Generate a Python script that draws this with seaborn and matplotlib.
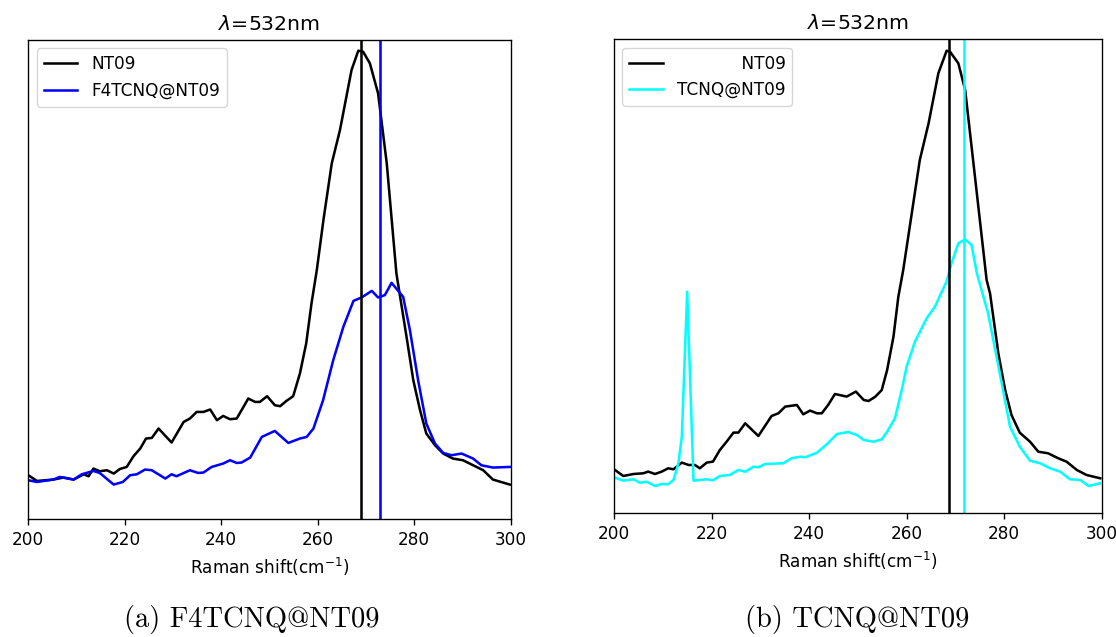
import numpy as np
import pandas as pd
import matplotlib
matplotlib.use("Agg")
import matplotlib.pyplot as plt
import seaborn as sns

# ---------------- data (arbitrary intensity units) -------------
# Panel (a)
a_nt09_x = [200.0, 201.8, 205.2, 207.3, 209.4, 211.5, 212.5, 213.5, 214.8, 216.3, 217.7,
            219.0, 220.4, 221.8, 223.2, 224.4, 225.6, 227.0, 229.7, 232.2, 233.5, 234.9,
            236.3, 237.7, 239.1, 240.4, 241.8, 243.2, 244.2, 245.6, 247.0, 248.0, 249.5,
            251.1, 252.2, 253.5, 254.9, 256.3, 257.6, 258.7, 259.8, 261.2, 262.9, 264.6,
            267.0, 268.4, 269.4, 270.8, 272.5, 274.3, 276.3, 278.4, 279.8, 281.2, 282.5,
            284.3, 286.0, 288.0, 290.1, 292.2, 294.3, 296.3, 299.8]
a_nt09_y = [44, 38.3, 39.7, 41.7, 39.7, 45, 43, 50.7, 48, 49, 45.7,
            50.3, 52.3, 63, 70.7, 80.7, 81.3, 90.7, 76.7, 97.3, 100.7, 107.3,
            107.3, 109.7, 99, 103.3, 100, 100.7, 109, 120.7, 117.3, 117.3, 123,
            114, 113, 118.3, 123, 145.7, 175.7, 215.7, 249, 300, 355.7, 389,
            449, 468.3, 467.3, 455.7, 425.7, 355.7, 245.7, 182.3, 139, 109, 85.7,
            74, 65.7, 60.7, 59, 54, 49, 39.7, 34.7]

a_dop_x = [200.0, 201.8, 205.2, 206.5, 209.4, 211.1, 213.5, 214.8, 217.7, 219.6, 221.1,
           222.5, 224.2, 225.6, 228.4, 229.7, 230.7, 233.5, 235.2, 236.3, 238.0, 240.4,
           241.8, 243.2, 244.2, 246.0, 248.4, 251.1, 253.9, 256.3, 257.7, 259.1, 261.1,
           263.2, 265.3, 267.4, 269.1, 271.2, 272.5, 273.9, 275.3, 277.7, 279.1, 280.8,
           282.5, 284.3, 286.0, 287.7, 289.8, 292.2, 293.9, 296.3, 299.8]
a_dop_y = [39, 37.3, 39.7, 42.3, 39.7, 45, 48.3, 46.3, 34.7, 37.3, 44,
           45, 49.7, 49, 40.7, 45, 43, 49, 46.3, 46.7, 52.3, 55.7,
           59, 56.3, 56.7, 61.7, 82.3, 88.3, 76.3, 80.7, 82.3, 90.7, 119,
           159, 192.3, 218.3, 221.7, 228.3, 221.7, 224, 236.3, 222.3, 189, 139,
           95.7, 75.7, 66.3, 64, 65.7, 60.7, 54, 51.7, 52.3]

# Panel (b)
b_nt09_x = [200.0, 201.9, 204.0, 206.0, 207.0, 208.4, 209.8, 211.1, 212.2, 213.9, 215.3,
            216.6, 217.6, 219.0, 220.3, 221.7, 223.1, 224.5, 225.5, 226.9, 229.6, 232.3,
            233.7, 235.1, 237.5, 238.8, 240.2, 241.6, 242.6, 243.9, 245.3, 247.7, 249.6,
            251.2, 252.2, 253.6, 254.9, 256.0, 257.3, 258.3, 259.3, 262.7, 264.5, 266.5,
            268.2, 268.9, 270.6, 272.0, 273.7, 276.4, 277.1, 278.8, 280.2, 281.5, 283.2,
            285.3, 287.0, 289.0, 291.1, 292.8, 294.9, 296.9, 299.7]
b_nt09_y = [44, 37.3, 39.3, 40, 41.7, 39.3, 41.7, 45, 44, 50.7, 48.3,
            48.3, 45, 50.7, 51.7, 63.3, 71.7, 80.7, 80.7, 90, 77.3, 97.3,
            100, 106.7, 108.3, 99, 102.7, 100, 100, 108.3, 119.3, 116.7, 121.7,
            113.3, 112.3, 116.7, 123.3, 143.3, 176.6, 216.6, 243.3, 353.3, 390, 440,
            462.6, 461.6, 450, 423.3, 350, 233.3, 220, 160, 123.3, 98.3, 80.6,
            71.6, 61.6, 60, 55, 51.6, 43.3, 38.3, 35]

b_dop_x = [200.0, 201.9, 204.0, 205.3, 206.7, 208.4, 209.8, 211.1, 212.2, 213.2, 213.9,
           215.0, 216.3, 217.6, 219.0, 220.3, 221.7, 223.7, 225.5, 226.9, 228.6, 229.6,
           231.0, 234.7, 236.4, 238.2, 239.2, 241.6, 243.7, 245.7, 248.0, 249.8, 251.2,
           253.2, 254.9, 256.0, 257.6, 259.0, 260.0, 261.7, 264.1, 265.8, 268.2, 269.2,
           270.6, 272.0, 273.3, 274.4, 276.7, 279.1, 281.2, 283.2, 285.3, 287.4, 289.4,
           291.5, 293.5, 295.6, 297.3, 299.7]
b_dop_y = [36, 32.6, 34, 30.6, 31.6, 27.3, 29.3, 29, 33.3, 50, 76.6,
           221.6, 32.6, 33.3, 34, 33, 37.3, 38.3, 43.3, 41.6, 46.6, 46,
           49.3, 50, 55, 56.6, 56, 60.6, 69.3, 79.3, 81.3, 78.3, 73.3,
           71.6, 74, 81.6, 95, 123.3, 146.6, 171.6, 195, 206.6, 232, 250,
           270, 274, 268.3, 240, 200, 140, 86.6, 66.6, 52.6, 50, 45,
           41.6, 34, 33.3, 27.3, 30]

peak_a = [268.9, 272.8]
peak_b = [268.7, 271.8]

titles = [r"$\lambda$=532nm", r"$\lambda$=532nm"]
legend_a = ["NT09", "F4TCNQ@NT09"]
legend_b = ["            NT09", "TCNQ@NT09"]
captions = ["(a) F4TCNQ@NT09", "(b) TCNQ@NT09"]
xticks = [200, 220, 240, 260, 280, 300]

# ---------------- figure -------------
s = 1.22
plt.rcParams.update({
    "font.size": 10 * s,
    "axes.linewidth": 0.8 * s,
    "xtick.major.width": 0.8 * s,
    "xtick.major.size": 3.5 * s,
    "xtick.major.pad": 3.5 * s,
    "xtick.labelsize": 10 * s,
    "legend.fontsize": 10 * s,
    "axes.titlesize": 12 * s,
})

fig = plt.figure(figsize=(11.16, 6.37), dpi=100)
axA = fig.add_axes([0.02536, 0.1848, 0.4323, 0.7524])
axB = fig.add_axes([0.5502, 0.1942, 0.4370, 0.7441])

lw = 1.5 * s
panels = [
    (axA, a_nt09_x, a_nt09_y, a_dop_x, a_dop_y, "black", "blue", peak_a, legend_a, (0, 479)),
    (axB, b_nt09_x, b_nt09_y, b_dop_x, b_dop_y, "black", "cyan", peak_b, legend_b, (0, 474)),
]
for i, (ax, x1, y1, x2, y2, c1, c2, pk, labs, yl) in enumerate(panels):
    d1 = pd.DataFrame({"x": x1, "y": y1})
    d2 = pd.DataFrame({"x": x2, "y": y2})
    sns.lineplot(data=d1, x="x", y="y", ax=ax, color=c1, lw=lw, label=labs[0])
    sns.lineplot(data=d2, x="x", y="y", ax=ax, color=c2, lw=lw, label=labs[1])
    ax.axvline(pk[0], color=c1, lw=lw)
    ax.axvline(pk[1], color=c2, lw=lw)
    ax.set_xlim(200, 300)
    ax.set_ylim(*yl)
    ax.set_xticks(xticks)
    ax.set_yticks([])
    ax.set_ylabel("")
    ax.set_xlabel(r"Raman shift(cm$^{-1}$)", labelpad=4 * s)
    ax.set_title(titles[i], pad=6 * s)
    ax.legend(loc="upper left")

fig.text(252 / 1116, 1 - 620 / 637, captions[0], ha="center", va="center",
         fontsize=20.5, family=["cmr10", "DejaVu Serif"])
fig.text(857 / 1116, 1 - 620 / 637, captions[1], ha="center", va="center",
         fontsize=20.5, family=["cmr10", "DejaVu Serif"])

fig.savefig("out.png", dpi=100)
